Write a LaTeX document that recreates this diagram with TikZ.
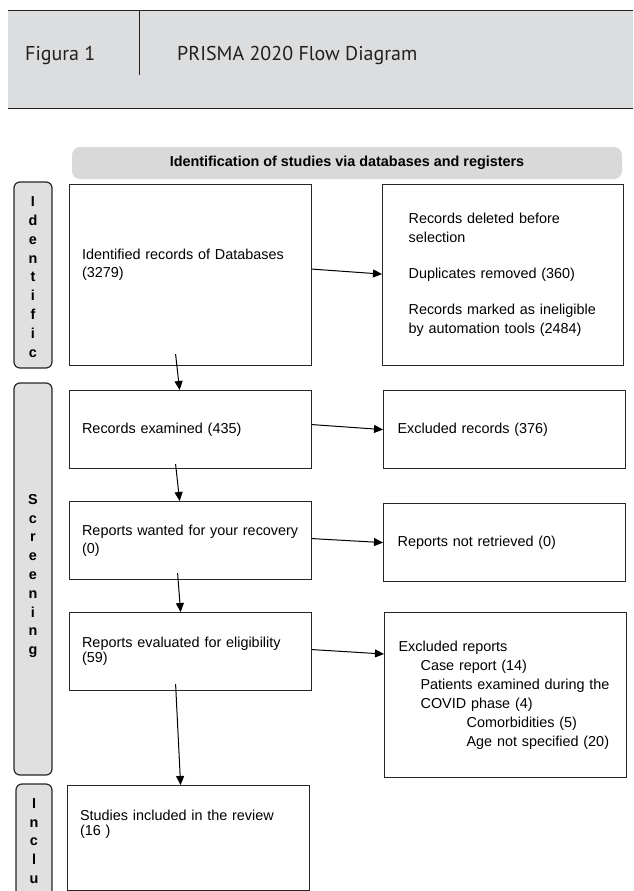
\documentclass[tikz,border=0pt]{standalone}
\usepackage{fontspec}
\setmainfont{Liberation Sans}
\newfontfamily\headfont{PT Sans}
\usetikzlibrary{arrows.meta,calc}

\definecolor{headgray}{RGB}{220,221,222}
\definecolor{bargray}{RGB}{217,217,217}
\definecolor{sidegray}{RGB}{224,224,224}
\definecolor{inkgray}{RGB}{35,31,32}

\begin{document}
\begin{tikzpicture}[
  x=1pt, y=-1pt,
  >={Triangle[length=9pt,width=8pt]},
  hline/.style={draw=inkgray, line width=0.9pt},
  headtxt/.style={font=\headfont\fontsize{20}{24}\selectfont, text=inkgray, anchor=base west, inner sep=0pt},
  phasebar/.style={fill=bargray, rounded corners=8pt, minimum width=550pt, minimum height=32pt,
    font=\bfseries\fontsize{14.4}{17}\selectfont},
  side/.style={draw=black!85, fill=sidegray, line width=1.2pt, rounded corners=6pt},
  sidetxt/.style={align=center, inner sep=0pt, font=\bfseries\fontsize{14.4}{18.8}\selectfont},
  box/.style={draw=black!85, fill=white, line width=1.2pt, anchor=north west, align=left,
    font=\fontsize{14.4}{18}\selectfont},
  lbox/.style={box, inner xsep=12.5pt, text width=217pt},
  rbox/.style={box, inner xsep=14pt, text width=214pt},
  arr/.style={->, line width=1pt}
]
\path[use as bounding box] (0,0) rectangle (633,891);

% title band
\fill[headgray] (8,10) rectangle (633,108);
\draw[hline] (8,10) -- (633,10);
\draw[hline] (8,108) -- (633,108);
\draw[hline] (139,10) -- (139,75);
\node[headtxt] (fig) at (25,61) {Figura 1};
\node[headtxt] (title) at (177,61) {PRISMA 2020 Flow Diagram};

\node[phasebar] (phase) at (347,163) {Identification of studies via databases and registers};

% side bars
\draw[side] (14,182) rectangle (52,368);
\draw[side] (14,383) rectangle (52,775);
\draw[side] (16,891) -- (16,784) -- (52,784) -- (52,891);
\node[sidetxt] (sideid) at (33,277) {I\\d\\e\\n\\t\\i\\f\\i\\c};
\node[sidetxt] (sidescr) at (33,576) {S\\c\\r\\e\\e\\n\\i\\n\\g};
\node[sidetxt] (sideinc) at (34,841) {I\\n\\c\\l\\u};

% left column
\node[lbox, minimum height=181pt, text depth=41pt] (ident) at (69,184)
  {Identified records of Databases\\(3279)};
\node[lbox, minimum height=78pt] (exam) at (69,390) {Records examined (435)};
\node[lbox, minimum height=78pt] (wanted) at (69,501)
  {Reports wanted for your recovery\\(0)};
\node[lbox, minimum height=78pt, font=\fontsize{14.4}{15}\selectfont] (elig) at (69,612)
  {Reports evaluated for eligibility\\(59)};
\node[lbox, minimum height=105pt, text depth=45pt, font=\fontsize{14.4}{15}\selectfont] (incl) at (67,785)
  {Studies included in the review\\(16 )};

% right column
\node[box, inner xsep=13pt, text width=215pt, minimum height=181pt, font=\fontsize{14.4}{19}\selectfont] (deleted) at (382,184)
  {\hspace*{13pt}Records deleted before\\\hspace*{13pt}selection\\[17pt]
   \hspace*{13pt}Duplicates removed (360)\\[17pt]
   \hspace*{13pt}Records marked as ineligible\\\hspace*{13pt}by automation tools (2484)};
\node[rbox, minimum height=78pt] (exclrec) at (383,390) {Excluded records (376)};
\node[rbox, minimum height=78pt] (notret) at (383,503) {Reports not retrieved (0)};
\node[rbox, minimum height=165pt, font=\fontsize{14.4}{19}\selectfont] (exclrep) at (384,612)
  {Excluded reports\\
   \hspace*{22pt}Case report (14)\\
   \hspace*{22pt}Patients examined during the\\
   \hspace*{22pt}COVID phase (4)\\
   \hspace*{68pt}Comorbidities (5)\\
   \hspace*{68pt}Age not specified (20)};

% arrows
\draw[arr] ($(ident.east)+(0,-6)$) -- ($(deleted.west)+(0,-1)$);
\draw[arr] ($(exam.east)+(0,-5)$) -- (exclrec.west);
\draw[arr] ($(wanted.east)+(0,-2)$) -- (notret.west);
\draw[arr] ($(elig.east)+(0,-2)$) -- ($(exclrep.north west)+(0,42)$);

\draw[arr] ($(ident.south)+(-15,-12)$) -- ($(exam.north)+(-11,0)$);
\draw[arr] ($(exam.south)+(-15,-5)$) -- ($(wanted.north)+(-11,0)$);
\draw[arr] ($(wanted.south)+(-13,-7)$) -- ($(elig.north)+(-10,0)$);
\draw[arr] ($(elig.south)+(-15,-7)$) -- ($(incl.north)+(-8,0)$);
\end{tikzpicture}
\end{document}
